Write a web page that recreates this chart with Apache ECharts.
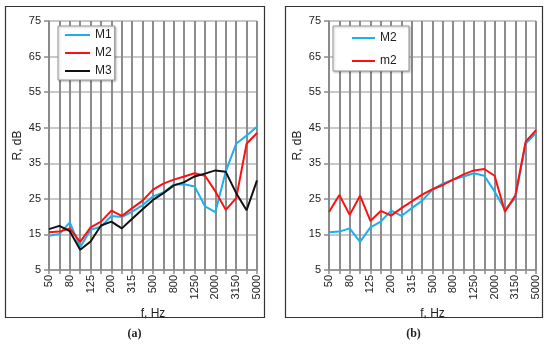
<!DOCTYPE html>
<html>
<head>
<meta charset="utf-8">
<script src="https://cdn.jsdelivr.net/npm/echarts@6/dist/echarts.min.js"></script>
<style>
html,body{margin:0;padding:0;background:#fff;}
#chart{width:550px;height:345px;}
</style>
</head>
<body>
<div id="chart"></div>
<script>
var categories = ['50','63','80','100','125','160','200','250','315','400','500','630','800','1000','1250','1600','2000','2500','3150','4000','5000'];
var M1 = [14.6, 15.1, 18.4, 11.4, 16.3, 17.2, 20.2, 19.9, 21.4, 23.2, 25.7, 26.8, 29.0, 29.1, 28.5, 22.9, 21.3, 32.7, 40.5, 42.8, 45.3];
var M2 = [15.6, 15.8, 16.7, 12.9, 17.0, 18.6, 21.7, 20.2, 22.4, 24.5, 27.6, 29.3, 30.4, 31.3, 32.2, 31.5, 27.1, 21.9, 25.2, 40.5, 43.5];
var M3 = [16.5, 17.4, 15.9, 10.7, 13.0, 17.5, 18.6, 16.7, 19.4, 22.1, 24.7, 26.6, 28.8, 29.7, 31.3, 32.1, 33.0, 32.6, 26.6, 21.8, 30.2];
var m2 = [21.3, 26.1, 20.5, 25.9, 18.8, 21.6, 20.3, 22.4, 24.3, 26.2, 27.7, 28.9, 30.4, 31.9, 33.0, 33.4, 31.5, 21.4, 25.9, 41.1, 44.3];
var yMin = 5, yMax = 75, yStep = 10;
var panelLabels = ['(a)', '(b)'];

var CYAN = '#1ab0ee', RED = '#ff1010', BLACK = '#111111';
var FONT = 'Liberation Sans';

function xAxis(gi) {
  return {
    type: 'category', gridIndex: gi, data: categories, boundaryGap: false,
    name: 'f, Hz', nameLocation: 'middle', nameGap: 30,
    nameTextStyle: {fontFamily: FONT, fontSize: 12, color: '#222'},
    axisLine: {show: true, lineStyle: {color: '#8a8a8a', width: 1.5}},
    axisTick: {show: true, interval: 0, length: 4, lineStyle: {color: '#8a8a8a', width: 1.5}},
    axisLabel: {interval: 1, rotate: 90, margin: 5, fontFamily: FONT, fontSize: 11, color: '#222'},
    splitLine: {show: true, interval: 0, lineStyle: {color: '#8c8c8c', width: 2}}
  };
}
function yAxis(gi) {
  return {
    type: 'value', gridIndex: gi, min: yMin, max: yMax, interval: yStep,
    name: 'R, dB', nameLocation: 'middle', nameGap: 25,
    nameTextStyle: {fontFamily: FONT, fontSize: 12, color: '#222'},
    axisLine: {show: true, lineStyle: {color: '#8a8a8a', width: 1.5}},
    axisTick: {show: true, length: 5, lineStyle: {color: '#8a8a8a', width: 1.5}},
    axisLabel: {margin: 8, fontFamily: FONT, fontSize: 11, color: '#222'},
    splitLine: {show: true, lineStyle: {color: '#c8c8c8', width: 2}}
  };
}
function line(name, data, color, gi) {
  return {
    name: name, type: 'line', data: data, xAxisIndex: gi, yAxisIndex: gi,
    symbol: 'none', smooth: false, animation: false,
    lineStyle: {color: color, width: 2}, itemStyle: {color: color}
  };
}
var legendBase = {
  orient: 'vertical', icon: 'rect', itemHeight: 2,
  backgroundColor: '#fff', borderColor: '#999', borderWidth: 1,
  shadowColor: 'rgba(0,0,0,0.25)', shadowBlur: 2, shadowOffsetX: 1, shadowOffsetY: 1,
  textStyle: {fontFamily: FONT, fontSize: 12, color: '#222', lineHeight: 14}
};

var chart = echarts.init(document.getElementById('chart'));
chart.setOption({
  animation: false,
  backgroundColor: '#fff',
  grid: [
    {left: 49, right: 293, top: 21, bottom: 75},
    {left: 329, right: 14, top: 21, bottom: 75}
  ],
  xAxis: [xAxis(0), xAxis(1)],
  yAxis: [yAxis(0), yAxis(1)],
  legend: [
    Object.assign({}, legendBase, {
      data: [{name: 'M1', itemStyle: {color: CYAN}}, {name: 'M2', itemStyle: {color: RED}}, {name: 'M3', itemStyle: {color: BLACK}}],
      left: 58, top: 26, itemWidth: 25, itemGap: 4, padding: [2, 3, 2, 7]
    }),
    Object.assign({}, legendBase, {
      data: [{name: 'M2 ', itemStyle: {color: CYAN}}, {name: 'm2', itemStyle: {color: RED}}],
      left: 333, top: 26, itemWidth: 23, itemGap: 9, padding: [5, 9, 3, 19]
    })
  ],
  series: [
    line('M1', M1, CYAN, 0),
    line('M2', M2, RED, 0),
    line('M3', M3, BLACK, 0),
    line('M2 ', M2, CYAN, 1),
    line('m2', m2, RED, 1)
  ],
  graphic: [
    {type: 'rect', shape: {x: 5.5, y: 6.5, width: 259, height: 311}, style: {fill: null, stroke: '#333', lineWidth: 1.2}, silent: true},
    {type: 'rect', shape: {x: 285.5, y: 6.5, width: 257, height: 311}, style: {fill: null, stroke: '#333', lineWidth: 1.2}, silent: true},
    {type: 'text', x: 134.5, y: 334, style: {text: panelLabels[0], fontFamily: 'Liberation Serif', fontWeight: 'bold', fontSize: 12, fill: '#222', textAlign: 'center', textVerticalAlign: 'middle'}},
    {type: 'text', x: 413.5, y: 334, style: {text: panelLabels[1], fontFamily: 'Liberation Serif', fontWeight: 'bold', fontSize: 12, fill: '#222', textAlign: 'center', textVerticalAlign: 'middle'}}
  ]
});
</script>
</body>
</html>
